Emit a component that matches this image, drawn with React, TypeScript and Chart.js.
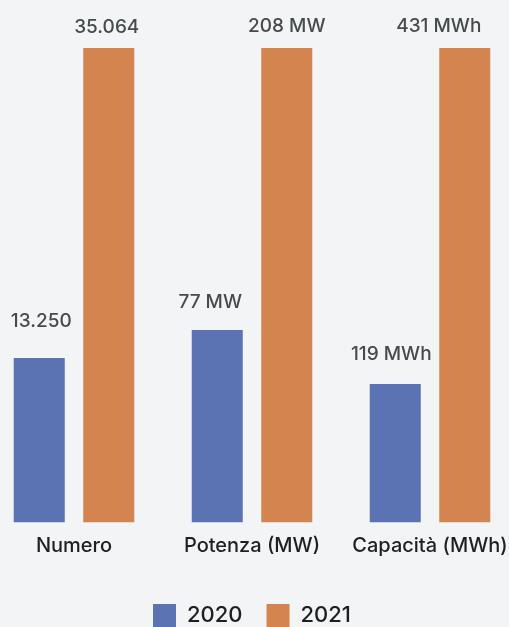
import React, { useEffect, useRef } from "react";
import { Chart, registerables } from "chart.js";

Chart.register(...registerables);

const CATEGORIES = ["Numero", "Potenza (MW)", "Capacità (MWh)"];
const SERIES_NAMES = ["2020", "2021"];
// bar heights (2021 bar = 100)
const VALUES_2020 = [34.7, 40.6, 29.2];
const VALUES_2021 = [100, 100, 100];
const LABELS_2020 = ["13.250", "77 MW", "119 MWh"];
const LABELS_2021 = ["35.064", "208 MW", "431 MWh"];

const COLOR_2020 = "#5b72b3";
const COLOR_2021 = "#d4844f";
const BG = "#f3f4f6";
const FONT = "Inter, 'DejaVu Sans', sans-serif";

// label placement styling (offset above bar top, horizontal nudge)
const LABEL_DY = [
  [37, 28, 30],
  [21, 22, 22],
];
const LABEL_DX = [
  [2, -7, -4],
  [-2, 0, -26],
];

const valueLabels = {
  id: "valueLabels",
  afterDatasetsDraw(chart: any) {
    const ctx = chart.ctx;
    const all = [LABELS_2020, LABELS_2021];
    ctx.save();
    ctx.font = `500 19px ${FONT}`;
    ctx.fillStyle = "#454b4b";
    ctx.textAlign = "center";
    ctx.textBaseline = "middle";
    chart.data.datasets.forEach((_: any, di: number) => {
      const meta = chart.getDatasetMeta(di);
      meta.data.forEach((el: any, i: number) => {
        ctx.fillText(all[di][i], el.x + LABEL_DX[di][i], el.y - LABEL_DY[di][i]);
      });
    });
    ctx.restore();
  },
};

export default function App() {
  const ref = useRef<HTMLCanvasElement>(null);
  useEffect(() => {
    if (!ref.current) return;
    const chart = new Chart(ref.current, {
      type: "bar",
      data: {
        labels: CATEGORIES,
        datasets: [
          {
            label: SERIES_NAMES[0],
            data: VALUES_2020,
            backgroundColor: COLOR_2020,
            borderWidth: 0,
            categoryPercentage: 0.781,
            barPercentage: 0.734,
          },
          {
            label: SERIES_NAMES[1],
            data: VALUES_2021,
            backgroundColor: COLOR_2021,
            borderWidth: 0,
            categoryPercentage: 0.781,
            barPercentage: 0.734,
          },
        ],
      },
      options: {
        responsive: false,
        animation: false,
        layout: { padding: { top: 48, left: 0, right: 0, bottom: 0 } },
        plugins: {
          tooltip: { enabled: false },
          legend: {
            position: "bottom",
            labels: {
              boxWidth: 23,
              boxHeight: 23,
              padding: 24,
              color: "#1f1f1f",
              font: { family: FONT, size: 22, weight: "500" as any },
            },
          },
        },
        scales: {
          x: {
            grid: { display: false },
            border: { display: false },
            ticks: {
              padding: 3,
              color: "#1f1f1f",
              font: { family: FONT, size: 20, weight: "500" as any },
            },
            title: {
              display: true,
              text: " ",
              font: { size: 2 },
              padding: { top: 0, bottom: 17 },
            },
          },
          y: {
            display: false,
            min: 0,
            max: 100,
          },
        },
      },
      plugins: [valueLabels],
    });
    return () => chart.destroy();
  }, []);

  return (
    <div
      style={{
        position: "fixed",
        left: 0,
        top: 0,
        width: 509,
        height: 627,
        overflow: "hidden",
        background: BG,
      }}
    >
      <div style={{ position: "absolute", left: -15, top: 0, width: 534, height: 637 }}>
        <canvas ref={ref} width={534} height={637} />
      </div>
    </div>
  );
}
